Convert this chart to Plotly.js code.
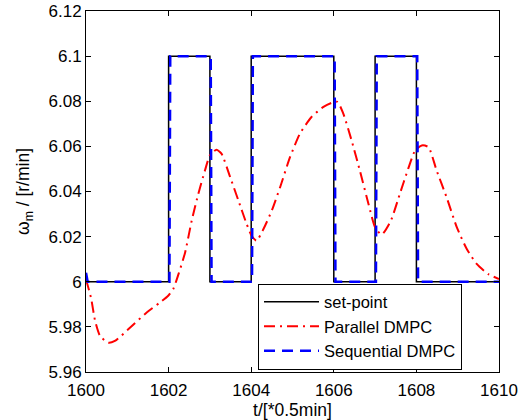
<!DOCTYPE html>
<html>
<head>
<meta charset="utf-8">
<script src="https://cdn.plot.ly/plotly-3.0.1.min.js"></script>
<style>html,body{margin:0;padding:0;background:#fff;}#chart{width:528px;height:420px;}</style>
</head>
<body>
<div id="chart"></div>
<script>
// Set-point (step changes)
var setX = [1600, 1602, 1602, 1603, 1603, 1604, 1604, 1606, 1606, 1607, 1607, 1608, 1608, 1610];
var setY = [6.0, 6.0, 6.1, 6.1, 6.0, 6.0, 6.1, 6.1, 6.0, 6.0, 6.1, 6.1, 6.0, 6.0];

// Sequential DMPC (follows set-point with a tiny lag)
var seqX = [1600, 1600.04, 1602.02, 1602.04, 1603.02, 1603.04, 1604.02, 1604.04, 1606.02, 1606.04, 1607.02, 1607.04, 1608.02, 1608.04, 1610];
var seqY = [6.004, 6.0, 6.0, 6.1, 6.1, 6.0, 6.0, 6.1, 6.1, 6.0, 6.0, 6.1, 6.1, 6.0, 6.0];

// Parallel DMPC
var parX = [1600.00, 1600.12, 1600.22, 1600.34, 1600.54, 1600.70, 1601.07, 1601.47, 1601.79, 1601.99,
            1602.11, 1602.24, 1602.40, 1602.56, 1602.72, 1602.88, 1603.00, 1603.16, 1603.28, 1603.49,
            1603.69, 1603.89, 1604.01, 1604.13, 1604.30, 1604.50, 1604.70, 1604.94, 1605.18, 1605.46,
            1605.75, 1605.95, 1606.09, 1606.23, 1606.43, 1606.63, 1606.84, 1607.00, 1607.16, 1607.38,
            1607.60, 1607.80, 1607.97, 1608.13, 1608.29, 1608.49, 1608.73, 1608.98, 1609.22, 1609.46,
            1609.74, 1610.00];
var parY = [6.001, 5.993, 5.9827, 5.976, 5.973, 5.9738, 5.9797, 5.9864, 5.9908, 5.9938,
            5.9967, 6.0034, 6.013, 6.0271, 6.039, 6.0493, 6.056, 6.0585, 6.0568, 6.0464,
            6.036, 6.0256, 6.0204, 6.0182, 6.0235, 6.0316, 6.0419, 6.0552, 6.0656, 6.073,
            6.0775, 6.0793, 6.0797, 6.0745, 6.0627, 6.0493, 6.0345, 6.0241, 6.0209, 6.027,
            6.039, 6.05, 6.0582, 6.0604, 6.0597, 6.0493, 6.0375, 6.0241, 6.0145, 6.0079,
            6.0034, 6.0012];

// Tick labels
var xTickVals = [1600, 1602, 1604, 1606, 1608, 1610];
var xTickText = ['1600', '1602', '1604', '1606', '1608', '1610'];
var yTickVals = [5.96, 5.98, 6.0, 6.02, 6.04, 6.06, 6.08, 6.1, 6.12];
var yTickText = ['5.96', '5.98', '6', '6.02', '6.04', '6.06', '6.08', '6.1', '6.12'];

var fam = '"Liberation Sans", Arial, Helvetica, sans-serif';
var font = {family: fam, size: 17, color: '#000'};
var legendFont = {family: fam, size: 16.5, color: '#000'};
var titleFont = {family: fam, size: 17.5, color: '#000'};

var traces = [
  {x: setX, y: setY, type: 'scatter', mode: 'lines', name: 'set-point',
   line: {color: '#000000', width: 1.5}},
  {x: parX, y: parY, type: 'scatter', mode: 'lines', name: 'Parallel DMPC',
   line: {color: '#ff0000', width: 2, dash: '11px,5px,2px,5px', shape: 'spline', smoothing: 0.6}},
  {x: seqX, y: seqY, type: 'scatter', mode: 'lines', name: 'Sequential DMPC',
   line: {color: '#0000ff', width: 2.5, dash: '11px,7px'}}
];

var axisCommon = {
  showline: true, linecolor: '#000', linewidth: 1, mirror: 'ticks',
  ticks: 'inside', ticklen: 5, tickwidth: 1, tickcolor: '#000',
  showgrid: false, zeroline: false, tickfont: font
};

var layout = {
  width: 528, height: 420,
  margin: {l: 86, r: 29, t: 11, b: 48},
  paper_bgcolor: '#fff', plot_bgcolor: '#fff',
  font: font,
  showlegend: true,
  xaxis: Object.assign({}, axisCommon, {
    range: [1600, 1610], tickvals: xTickVals, ticktext: xTickText,
    ticklabelstandoff: 3,
    title: {text: 't/[*0.5min]', font: titleFont, standoff: 0}
  }),
  yaxis: Object.assign({}, axisCommon, {
    range: [5.96, 6.12], tickvals: yTickVals, ticktext: yTickText,
    title: {text: 'ω<sub>m</sub> / [r/min]', font: titleFont, standoff: 14}
  }),
  legend: {
    x: 0.4165, y: 0.245, xanchor: 'left', yanchor: 'top',
    bgcolor: '#fff', bordercolor: '#000', borderwidth: 1,
    font: legendFont, itemwidth: 55, tracegroupgap: 0
  }
};

Plotly.newPlot('chart', traces, layout, {staticPlot: true, displayModeBar: false});
</script>
</body>
</html>
